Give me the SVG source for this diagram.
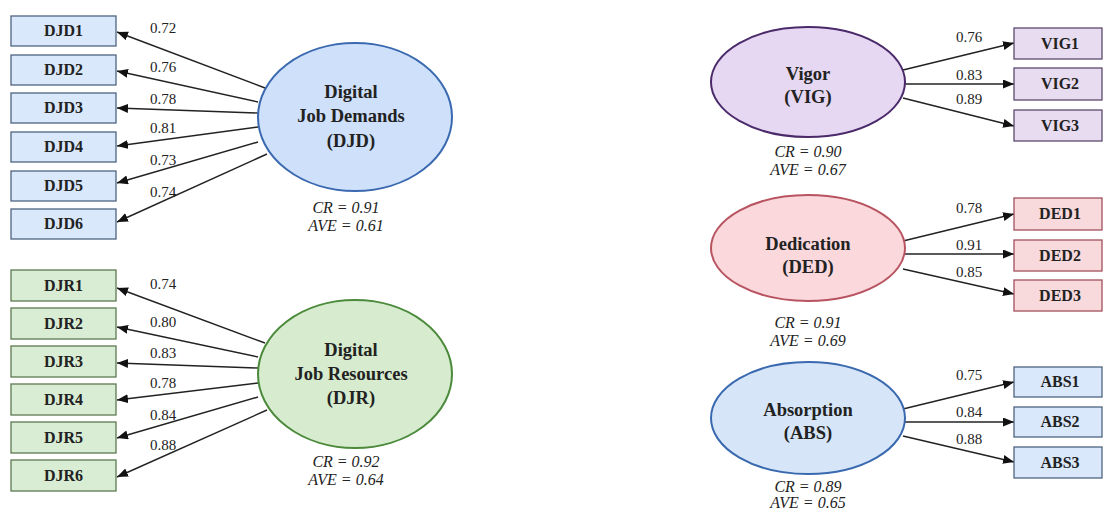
<svg xmlns="http://www.w3.org/2000/svg" width="1103" height="511" viewBox="0 0 1103 511">
<defs>
<marker id="ah" markerUnits="userSpaceOnUse" markerWidth="12" markerHeight="10" refX="11" refY="4.5" orient="auto">
<path d="M0,0 L11,4.5 L0,9 z" fill="#111"/>
</marker>
</defs>
<rect width="1103" height="511" fill="#fff"/>

<g id="connectors" stroke="#222" stroke-width="1.4" marker-end="url(#ah)">
<line x1="265" y1="88" x2="117" y2="32"/>
<line x1="258" y1="102" x2="117" y2="71"/>
<line x1="258" y1="113" x2="117" y2="108"/>
<line x1="258" y1="127" x2="117" y2="146"/>
<line x1="258" y1="142" x2="117" y2="183"/>
<line x1="267" y1="154" x2="117" y2="222"/>
<line x1="265" y1="343" x2="117" y2="288"/>
<line x1="258" y1="357" x2="117" y2="327"/>
<line x1="258" y1="368" x2="117" y2="363"/>
<line x1="258" y1="383" x2="117" y2="400"/>
<line x1="258" y1="397" x2="117" y2="438"/>
<line x1="267" y1="410" x2="117" y2="477"/>
<line x1="903" y1="70" x2="1014" y2="43"/>
<line x1="905" y1="84" x2="1014" y2="84"/>
<line x1="903" y1="98" x2="1014" y2="126"/>
<line x1="903" y1="241" x2="1014" y2="214"/>
<line x1="905" y1="254" x2="1014" y2="254"/>
<line x1="903" y1="269" x2="1014" y2="294"/>
<line x1="903" y1="409" x2="1014" y2="382"/>
<line x1="905" y1="422" x2="1014" y2="422"/>
<line x1="903" y1="436" x2="1014" y2="462"/>
</g>

<g id="weights" fill="#222" text-anchor="middle">
<text font-family="serif" font-size="15" x="163" y="33">0.72</text>
<text font-family="serif" font-size="15" x="163" y="72">0.76</text>
<text font-family="serif" font-size="15" x="163" y="104">0.78</text>
<text font-family="serif" font-size="15" x="163" y="133">0.81</text>
<text font-family="serif" font-size="15" x="163" y="165">0.73</text>
<text font-family="serif" font-size="15" x="163" y="197">0.74</text>
<text font-family="serif" font-size="15" x="163" y="289">0.74</text>
<text font-family="serif" font-size="15" x="163" y="327">0.80</text>
<text font-family="serif" font-size="15" x="163" y="358">0.83</text>
<text font-family="serif" font-size="15" x="163" y="388">0.78</text>
<text font-family="serif" font-size="15" x="163" y="420">0.84</text>
<text font-family="serif" font-size="15" x="163" y="450">0.88</text>
<text font-family="serif" font-size="15" x="969" y="42">0.76</text>
<text font-family="serif" font-size="15" x="969" y="80">0.83</text>
<text font-family="serif" font-size="15" x="969" y="104">0.89</text>
<text font-family="serif" font-size="15" x="969" y="213">0.78</text>
<text font-family="serif" font-size="15" x="969" y="250">0.91</text>
<text font-family="serif" font-size="15" x="969" y="277">0.85</text>
<text font-family="serif" font-size="15" x="969" y="380">0.75</text>
<text font-family="serif" font-size="15" x="969" y="417">0.84</text>
<text font-family="serif" font-size="15" x="969" y="444">0.88</text>
</g>

<g id="DJD-items" fill="#dae8fc" stroke="#4d6480" stroke-width="1.3">
<rect x="11" y="16" width="105" height="30"/>
<rect x="11" y="55" width="105" height="30"/>
<rect x="11" y="93" width="105" height="30"/>
<rect x="11" y="132" width="105" height="30"/>
<rect x="11" y="171" width="105" height="30"/>
<rect x="11" y="209" width="105" height="30"/>
<g fill="#222" stroke="none" text-anchor="middle">
<text style="font-family:'Liberation Serif',serif;font-size:16px;font-weight:bold" x="63.5" y="36.4">DJD1</text>
<text style="font-family:'Liberation Serif',serif;font-size:16px;font-weight:bold" x="63.5" y="75.4">DJD2</text>
<text style="font-family:'Liberation Serif',serif;font-size:16px;font-weight:bold" x="63.5" y="113.4">DJD3</text>
<text style="font-family:'Liberation Serif',serif;font-size:16px;font-weight:bold" x="63.5" y="152.4">DJD4</text>
<text style="font-family:'Liberation Serif',serif;font-size:16px;font-weight:bold" x="63.5" y="191.4">DJD5</text>
<text style="font-family:'Liberation Serif',serif;font-size:16px;font-weight:bold" x="63.5" y="229.4">DJD6</text>
</g>
</g>

<g id="DJR-items" fill="#d9ecd4" stroke="#5d7a52" stroke-width="1.3">
<rect x="11" y="270" width="105" height="31"/>
<rect x="11" y="308" width="105" height="31"/>
<rect x="11" y="346" width="105" height="31"/>
<rect x="11" y="384" width="105" height="31"/>
<rect x="11" y="422" width="105" height="31"/>
<rect x="11" y="460" width="105" height="31"/>
<g fill="#222" stroke="none" text-anchor="middle">
<text font-family="Times New Roman" font-size="16" font-weight="bold" x="63.5" y="291">DJR1</text>
<text font-family="Times New Roman" font-size="16" font-weight="bold" x="63.5" y="329">DJR2</text>
<text font-family="Times New Roman" font-size="16" font-weight="bold" x="63.5" y="367">DJR3</text>
<text font-family="Times New Roman" font-size="16" font-weight="bold" x="63.5" y="405">DJR4</text>
<text font-family="Times New Roman" font-size="16" font-weight="bold" x="63.5" y="443">DJR5</text>
<text font-family="Times New Roman" font-size="16" font-weight="bold" x="63.5" y="481">DJR6</text>
</g>
</g>

<g id="DJD" fill="#222" text-anchor="middle">
<ellipse cx="355" cy="117" rx="97" ry="74" fill="#cfe0fa" stroke="#3a69b0" stroke-width="2"/>
<text font-family="Liberation Serif" font-size="18.5" font-weight="bold" x="351" y="98.3">Digital</text>
<text font-family="Liberation Serif" font-size="18.5" font-weight="bold" x="351" y="122.3">Job Demands</text>
<text font-family="Liberation Serif" font-size="18.5" font-weight="bold" x="351" y="147.3">(DJD)</text>
<text font-family="Liberation Serif" font-size="16" font-style="italic" x="346" y="213.4">CR = 0.91</text>
<text font-family="Liberation Serif" font-size="16" font-style="italic" x="346" y="231.4">AVE = 0.61</text>
</g>

<g id="DJR" fill="#222" text-anchor="middle">
<ellipse cx="355" cy="374" rx="97" ry="74" fill="#d7eccf" stroke="#4a8a3a" stroke-width="2"/>
<text font-family="Liberation Serif" font-size="18.5" font-weight="bold" x="351" y="356.3">Digital</text>
<text font-family="Liberation Serif" font-size="18.5" font-weight="bold" x="351" y="380.3">Job Resources</text>
<text font-family="Liberation Serif" font-size="18.5" font-weight="bold" x="351" y="404.3">(DJR)</text>
<text font-family="Liberation Serif" font-size="16" font-style="italic" x="346" y="467.4">CR = 0.92</text>
<text font-family="Liberation Serif" font-size="16" font-style="italic" x="346" y="485.4">AVE = 0.64</text>
</g>

<g id="VIG" fill="#222" text-anchor="middle">
<ellipse cx="808" cy="82" rx="97" ry="55" fill="#e6d8f2" stroke="#4a2a6a" stroke-width="2"/>
<text font-family="Liberation Serif" font-size="18.5" font-weight="bold" x="808" y="80.3">Vigor</text>
<text font-family="Liberation Serif" font-size="18.5" font-weight="bold" x="808" y="103.3">(VIG)</text>
<text font-family="Liberation Serif" font-size="16" font-style="italic" x="808" y="157.4">CR = 0.90</text>
<text font-family="Liberation Serif" font-size="16" font-style="italic" x="808" y="175.4">AVE = 0.67</text>
</g>
<g id="VIG-items" fill="#e8dcf0" stroke="#5c4a6e" stroke-width="1.3">
<rect x="1014" y="28" width="88" height="31"/>
<rect x="1014" y="68" width="88" height="32"/>
<rect x="1014" y="110" width="88" height="31"/>
<g fill="#222" stroke="none" text-anchor="middle">
<text font-family="Liberation Serif" font-size="16" font-weight="bold" x="1060" y="49">VIG1</text>
<text font-family="Liberation Serif" font-size="16" font-weight="bold" x="1060" y="89.4">VIG2</text>
<text font-family="Liberation Serif" font-size="16" font-weight="bold" x="1060" y="131">VIG3</text>
</g>
</g>

<g id="DED" fill="#222" text-anchor="middle">
<ellipse cx="808" cy="248" rx="97" ry="53" fill="#fad8dc" stroke="#b85460" stroke-width="2"/>
<text font-family="Liberation Serif" font-size="18.5" font-weight="bold" x="808" y="250.3">Dedication</text>
<text font-family="Liberation Serif" font-size="18.5" font-weight="bold" x="808" y="273.3">(DED)</text>
<text font-family="Liberation Serif" font-size="16" font-style="italic" x="808" y="328.4">CR = 0.91</text>
<text font-family="Liberation Serif" font-size="16" font-style="italic" x="808" y="346.4">AVE = 0.69</text>
</g>
<g id="DED-items" fill="#f8d9dc" stroke="#a0505c" stroke-width="1.3">
<rect x="1014" y="198" width="88" height="32"/>
<rect x="1014" y="240" width="88" height="31"/>
<rect x="1014" y="280" width="88" height="31"/>
<g fill="#222" stroke="none" text-anchor="middle">
<text font-family="Liberation Serif" font-size="16" font-weight="bold" x="1060" y="219.4">DED1</text>
<text font-family="Liberation Serif" font-size="16" font-weight="bold" x="1060" y="261">DED2</text>
<text font-family="Liberation Serif" font-size="16" font-weight="bold" x="1060" y="301">DED3</text>
</g>
</g>

<g id="ABS" fill="#222" text-anchor="middle">
<ellipse cx="808" cy="418" rx="97" ry="56" fill="#d6e6f8" stroke="#3a69b0" stroke-width="2"/>
<text font-family="Liberation Serif" font-size="18.5" font-weight="bold" x="808" y="416.3">Absorption</text>
<text font-family="Liberation Serif" font-size="18.5" font-weight="bold" x="808" y="439.3">(ABS)</text>
<text font-family="Liberation Serif" font-size="16" font-style="italic" x="808" y="492.4">CR = 0.89</text>
<text font-family="Liberation Serif" font-size="16" font-style="italic" x="808" y="508">AVE = 0.65</text>
</g>
<g id="ABS-items" fill="#dae8fc" stroke="#4d6480" stroke-width="1.3">
<rect x="1014" y="367" width="88" height="30"/>
<rect x="1014" y="407" width="88" height="30"/>
<rect x="1014" y="447" width="88" height="31"/>
</g>
<text font-family="Liberation Serif" font-size="16" font-weight="bold" text-anchor="middle" fill="#222" x="1060" y="387.4">ABS1</text>
<text font-family="Liberation Serif" font-size="16" font-weight="bold" text-anchor="middle" fill="#222" x="1060" y="427.4">ABS2</text>
<text font-family="Liberation Serif" font-size="16" font-weight="bold" text-anchor="middle" fill="#222" x="1060" y="468">ABS3</text>
</svg>
